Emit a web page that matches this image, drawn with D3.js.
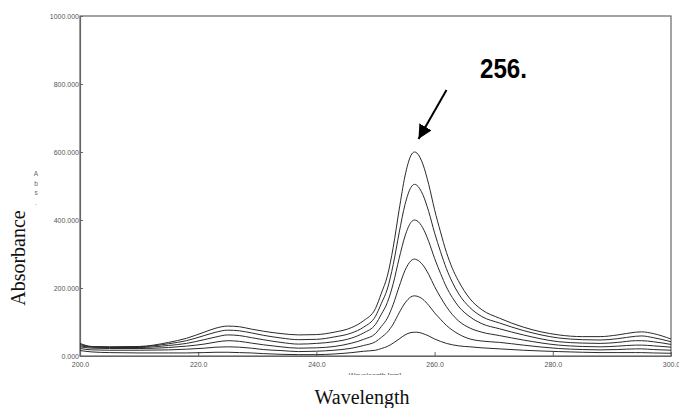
<!DOCTYPE html>
<html><head><meta charset="utf-8">
<script src="https://cdn.jsdelivr.net/npm/d3@7/dist/d3.min.js"></script>
<style>body{margin:0;background:#fff}svg{display:block}</style>
</head><body>
<svg id="c" width="679" height="408"></svg>
<script>
const wavelengths = [200,202,205,210,215,218,221,223,225,227,229,231,234,237,240,243,246,248,250,251,252,253,254,255,256,256.6,257,258,259,260,261,262,263,264,266,268,271,275,281,285,288,291,294,295,297,300];
const s1 = [37,28,27,28,40,52,70,82,88,86,79,73,66,62,63,70,84,104,140,185,235,320,430,530,590,600,597,565,505,430,365,305,258,222,168,136,111,85,62,57,57,62,70,71,66,50];
const s2 = [34,27,26,27,36,45,60,70,76,74,68,61,53,48,49,56,68,85,117,155,197,269,362,446,496,505,502,475,425,362,307,257,217,185,142,116,97,75,53,48,47,51,58,59,54,42];
const s3 = [30,26,25,25,31,37,48,56,62,60,54,48,40,35,37,42,53,68,93,123,157,213,287,353,393,400,398,377,337,287,243,203,172,147,115,95,80,62,42,38,37,40,45,45,42,34];
const s4 = [27,23,22,22,25,29,35,41,45,43,38,33,27,23,24,28,38,49,66,87,111,152,204,252,280,285,283,268,240,204,173,145,122,104,82,70,60,47,32,28,27,29,32,32,30,26];
const s5 = [22,18,17,17,18,20,23,26,27,26,23,19,16,13,14,17,23,31,42,55,70,94,127,156,174,177,176,167,149,127,108,90,76,65,50,44,40,32,22,19,18,19,21,21,19,17];
const s6 = [16,12,10,9,9,9,10,11,11,10,9,7,5,4,4,6,10,14,17,22,28,38,50,62,69,70,70,66,59,50,43,37,33,30,27,24,21,17,13,11,10,10,10,10,9,8];
const series = [s1,s2,s3,s4,s5,s6];
const yTicks = [0,200,400,600,800,1000];
const xTicks = [200,220,240,260,280,300];
const peakLabel = "256.";

const svg = d3.select("#c");
const x = d3.scaleLinear().domain([200,300]).range([80,671]);
const y = d3.scaleLinear().domain([0,1000]).range([356,16]);
const axisColor = "#666";
const tickFont = "'Liberation Sans Narrow','Liberation Sans',Arial,sans-serif";

// frame
svg.append("rect").attr("x",x(200)).attr("y",y(1000)).attr("width",x(300)-x(200)).attr("height",y(0)-y(1000))
  .attr("fill","none").attr("stroke",axisColor).attr("stroke-width",1.2);

const yAxis = svg.append("g").attr("transform",`translate(${x(200)},0)`)
  .call(d3.axisLeft(y).tickValues(yTicks).tickFormat(d=>d3.format(".3f")(d)).tickSizeInner(-3).tickSizeOuter(0).tickPadding(1));
const xAxis = svg.append("g").attr("transform",`translate(0,${y(0)})`)
  .call(d3.axisBottom(x).tickValues(xTicks).tickFormat(d=>d3.format(".1f")(d)).tickSizeInner(-4).tickSizeOuter(0).tickPadding(6));
[yAxis,xAxis].forEach(g=>{
  g.select(".domain").attr("stroke",axisColor).attr("stroke-width",1.2);
  g.selectAll(".tick line").attr("stroke",axisColor);
  g.selectAll(".tick text").attr("fill","#555").attr("font-size",7).attr("font-family",tickFont);
});

// curves
const line = d3.line().x((d,i)=>x(wavelengths[i])).y(d=>y(d)).curve(d3.curveMonotoneX);
svg.append("g").selectAll("path").data(series).join("path")
  .attr("d",line).attr("fill","none").attr("stroke","#2a2a2a").attr("stroke-width",1);

// small clipped axis title
svg.append("clipPath").attr("id","clipT").append("rect").attr("x",0).attr("y",369).attr("width",679).attr("height",6);
svg.append("text").attr("x",375).attr("y",377.5).attr("text-anchor","middle").attr("clip-path","url(#clipT)")
  .attr("font-size",7).attr("font-family",tickFont).attr("fill","#555").text("Wavelength [nm]");

// small vertical "Abs."
const absLetters = ["A","b","s","."];
svg.append("g").selectAll("text").data(absLetters).join("text")
  .attr("x",36).attr("y",(d,i)=>176+i*9.5).attr("text-anchor","middle")
  .attr("font-size",6.5).attr("font-family",tickFont).attr("fill","#666").text(d=>d);

// big titles
svg.append("text").attr("transform","translate(25,258) rotate(-90)").attr("text-anchor","middle")
  .attr("font-family","'Liberation Serif','Times New Roman',serif").attr("font-size",20).attr("fill","#111").text("Absorbance");
svg.append("text").attr("x",362).attr("y",404).attr("text-anchor","middle")
  .attr("font-family","'Liberation Serif','Times New Roman',serif").attr("font-size",20).attr("fill","#111").text("Wavelength");

// annotation
svg.append("text").attr("x",480).attr("y",78).attr("font-family","'Liberation Sans',Arial,sans-serif")
  .attr("font-weight","bold").attr("font-size",27).attr("textLength",47).attr("lengthAdjust","spacingAndGlyphs")
  .attr("fill","#000").text(peakLabel);
svg.append("defs").append("marker").attr("id","ah").attr("viewBox","0 0 10 10").attr("refX",10).attr("refY",5)
  .attr("markerWidth",14).attr("markerHeight",14).attr("markerUnits","userSpaceOnUse").attr("orient","auto")
  .append("path").attr("d","M0,0 L10,5 L0,10 Z").attr("fill","#000");
svg.append("line").attr("x1",446.5).attr("y1",90).attr("x2",418.5).attr("y2",139)
  .attr("stroke","#000").attr("stroke-width",2).attr("marker-end","url(#ah)");
</script>
</body></html>
